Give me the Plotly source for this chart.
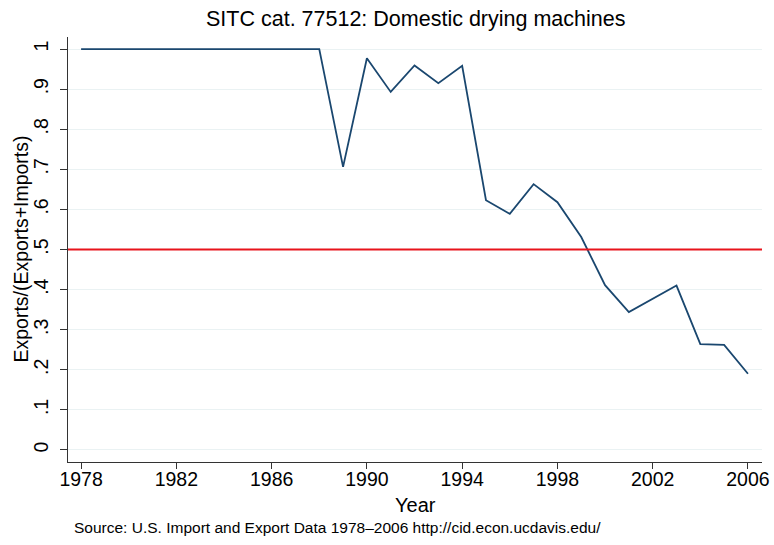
import plotly.graph_objects as go

years = list(range(1978, 2007))
share = [1.0, 1.0, 1.0, 1.0, 1.0, 1.0, 1.0, 1.0, 1.0, 1.0, 1.0,
         0.706, 0.977, 0.893, 0.959, 0.915, 0.958,
         0.623, 0.589, 0.663, 0.618, 0.531, 0.411, 0.344, 0.377,
         0.410, 0.264, 0.262, 0.190]
ref_level = 0.5
ytick_vals = [0, 0.1, 0.2, 0.3, 0.4, 0.5, 0.6, 0.7, 0.8, 0.9, 1.0]
ytick_text = ["0", ".1", ".2", ".3", ".4", ".5", ".6", ".7", ".8", ".9", "1"]
xtick_vals = [1978, 1982, 1986, 1990, 1994, 1998, 2002, 2006]

font = "Liberation Sans, Arial, Helvetica, sans-serif"
W, H = 774, 545

fig = go.Figure()
fig.add_trace(go.Scatter(x=years, y=share, mode="lines",
                         line=dict(color="#1a476f", width=1.8),
                         showlegend=False))
fig.add_hline(y=ref_level, line=dict(color="#e8141c", width=1.8))

fig.update_layout(
    width=W, height=H,
    paper_bgcolor="white", plot_bgcolor="white",
    margin=dict(l=68, r=12, t=37, b=83, autoexpand=False),
    font=dict(family=font, color="black"),
    xaxis=dict(range=[1977.45, 2006.59], tickvals=xtick_vals,
               ticks="outside", ticklen=6, tickcolor="#333333",
               showline=True, linecolor="#333333", linewidth=1,
               showgrid=False, zeroline=False, automargin=False,
               ticklabelstandoff=-6,
               tickfont=dict(size=19.5)),
    yaxis=dict(range=[-0.03, 1.03], tickvals=ytick_vals, ticktext=ytick_text,
               tickangle=-90,
               ticks="outside", ticklen=7, tickcolor="#333333",
               showline=True, linecolor="#333333", linewidth=1,
               showgrid=True, gridcolor="#eaf2f3", gridwidth=1.2,
               zeroline=False, automargin=False, ticklabelstandoff=4,
               tickfont=dict(size=19.5)),
    annotations=[
        dict(text="SITC cat. 77512: Domestic drying machines",
             xref="paper", yref="paper", x=0.5, y=1 + (37 - 19) / 425,
             xanchor="center", yanchor="middle", showarrow=False,
             font=dict(family=font, size=21.5, color="black")),
        dict(text="Year", xref="paper", yref="paper",
             x=0.5, y=-(505 - 462) / 425, xanchor="center", yanchor="middle",
             showarrow=False, font=dict(family=font, size=20, color="black")),
        dict(text="Exports/(Exports+Imports)", xref="paper", yref="paper",
             x=-(68 - 20) / 694, y=0.5, xanchor="center", yanchor="middle",
             textangle=-90, showarrow=False,
             font=dict(family=font, size=19.5, color="black")),
        dict(text="Source: U.S. Import and Export Data 1978\u20132006 http://cid.econ.ucdavis.edu/",
             xref="paper", yref="paper", x=(72 - 68) / 694, y=-(527 - 462) / 425,
             xanchor="left", yanchor="middle", showarrow=False,
             font=dict(family=font, size=15.5, color="black")),
    ],
)

fig.write_html("out.html", config={"displayModeBar": False},
               post_script="document.body.style.margin='0';document.body.style.padding='0';")
